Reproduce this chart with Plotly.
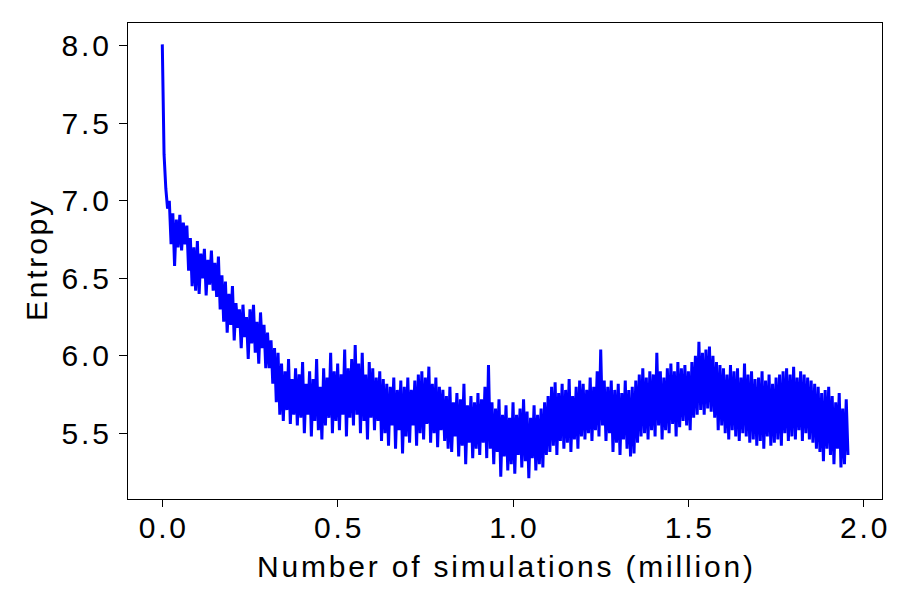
import plotly.graph_objects as go

# Entropy, one value every 0.005 million simulations
sim_step = 0.005
entropy = [
    # 0.0 - 0.1
    8.01, 7.30, 7.08, 6.95, 7.00, 6.72, 6.92, 6.58, 6.88, 6.70,
    6.91, 6.68, 6.86, 6.72, 6.84, 6.55, 6.76, 6.45, 6.70, 6.42,
    # 0.1 - 0.2
    6.74, 6.40, 6.66, 6.50, 6.69, 6.39, 6.62, 6.46, 6.68, 6.42,
    6.60, 6.38, 6.64, 6.30, 6.52, 6.22, 6.48, 6.15, 6.40, 6.20,
    # 0.2 - 0.3
    6.45, 6.10, 6.34, 6.18, 6.30, 6.05, 6.33, 6.12, 6.25, 5.98,
    6.30, 6.08, 6.33, 6.02, 6.22, 5.95, 6.28, 6.05, 6.20, 5.92,
    # 0.3 - 0.4
    6.15, 5.92, 6.10, 5.82, 6.05, 5.70, 6.02, 5.62, 5.95, 5.58,
    5.90, 5.65, 5.98, 5.56, 5.85, 5.62, 5.92, 5.55, 5.88, 5.60,
    # 0.4 - 0.5
    5.96, 5.50, 5.82, 5.62, 5.90, 5.48, 5.85, 5.58, 5.98, 5.52,
    5.80, 5.46, 5.92, 5.55, 5.86, 5.60, 6.02, 5.50, 5.90, 5.58,
    # 0.5 - 0.6
    5.95, 5.52, 5.88, 5.62, 6.04, 5.48, 5.92, 5.60, 5.98, 5.55,
    6.07, 5.62, 5.95, 5.50, 6.02, 5.58, 5.88, 5.46, 5.96, 5.60,
    # 0.6 - 0.7
    5.92, 5.52, 5.86, 5.58, 5.90, 5.45, 5.85, 5.50, 5.82, 5.42,
    5.80, 5.55, 5.86, 5.40, 5.78, 5.52, 5.84, 5.37, 5.80, 5.48,
    # 0.7 - 0.8
    5.86, 5.44, 5.78, 5.55, 5.84, 5.42, 5.88, 5.50, 5.90, 5.46,
    5.86, 5.56, 5.93, 5.44, 5.82, 5.50, 5.86, 5.41, 5.80, 5.52,
    # 0.8 - 0.9
    5.78, 5.45, 5.74, 5.40, 5.80, 5.38, 5.70, 5.48, 5.76, 5.35,
    5.72, 5.42, 5.82, 5.30, 5.68, 5.44, 5.74, 5.34, 5.70, 5.40,
    # 0.9 - 1.0
    5.76, 5.36, 5.72, 5.44, 5.80, 5.34, 5.94, 5.40, 5.70, 5.30,
    5.66, 5.38, 5.72, 5.22, 5.62, 5.35, 5.68, 5.26, 5.60, 5.30,
    # 1.0 - 1.1
    5.70, 5.24, 5.62, 5.36, 5.66, 5.28, 5.72, 5.32, 5.64, 5.21,
    5.60, 5.34, 5.68, 5.26, 5.62, 5.30, 5.66, 5.28, 5.70, 5.36,
    # 1.1 - 1.2
    5.74, 5.38, 5.80, 5.42, 5.83, 5.36, 5.76, 5.45, 5.82, 5.40,
    5.78, 5.44, 5.85, 5.38, 5.74, 5.46, 5.80, 5.40, 5.84, 5.48,
    # 1.2 - 1.3
    5.82, 5.46, 5.78, 5.50, 5.86, 5.45, 5.80, 5.52, 5.90, 5.48,
    6.04, 5.55, 5.84, 5.45, 5.80, 5.50, 5.84, 5.38, 5.78, 5.44,
    # 1.3 - 1.4
    5.82, 5.36, 5.76, 5.46, 5.84, 5.40, 5.78, 5.35, 5.80, 5.37,
    5.84, 5.44, 5.88, 5.48, 5.92, 5.50, 5.86, 5.46, 5.90, 5.52,
    # 1.4 - 1.5
    5.88, 5.48, 6.02, 5.55, 5.90, 5.46, 5.86, 5.52, 5.92, 5.50,
    5.95, 5.56, 5.90, 5.48, 5.96, 5.54, 5.92, 5.58, 5.94, 5.55,
    # 1.5 - 1.6
    5.90, 5.52, 5.96, 5.60, 6.00, 5.62, 6.09, 5.65, 6.02, 5.62,
    6.04, 5.66, 6.06, 5.64, 6.00, 5.60, 5.96, 5.52, 5.94, 5.55,
    # 1.6 - 1.7
    5.92, 5.50, 5.88, 5.46, 5.94, 5.52, 5.90, 5.48, 5.92, 5.45,
    5.86, 5.50, 5.95, 5.48, 5.88, 5.44, 5.90, 5.46, 5.85, 5.42,
    # 1.7 - 1.8
    5.86, 5.45, 5.90, 5.40, 5.84, 5.48, 5.88, 5.42, 5.82, 5.44,
    5.86, 5.46, 5.88, 5.42, 5.90, 5.50, 5.92, 5.45, 5.88, 5.48,
    # 1.8 - 1.9
    5.93, 5.46, 5.86, 5.52, 5.90, 5.45, 5.88, 5.50, 5.86, 5.46,
    5.84, 5.44, 5.82, 5.40, 5.80, 5.38, 5.76, 5.32, 5.78, 5.40,
    # 1.9 - 1.955
    5.80, 5.36, 5.74, 5.30, 5.70, 5.40, 5.76, 5.28, 5.66, 5.30,
    5.72, 5.36,
]
simulations = [i * sim_step for i in range(len(entropy))]

x_ticks = [0.0, 0.5, 1.0, 1.5, 2.0]
y_ticks = [5.5, 6.0, 6.5, 7.0, 7.5, 8.0]

# the reference text is rendered with wide letter gaps
SPACING = 2.8


def spaced(s):
    return f'<span style="letter-spacing:{SPACING}px">{s[:-1]}</span>{s[-1]}'


font = dict(family="Liberation Sans, Arial, sans-serif", size=30, color="black")

fig = go.Figure()
fig.add_trace(go.Scatter(
    x=simulations,
    y=entropy,
    mode="lines",
    line=dict(color="#0000ff", width=3),
    showlegend=False,
))

# page body adds an 8px offset, so the figure is drawn 8px smaller
fig.update_layout(
    width=905,
    height=601,
    margin=dict(l=120, r=31, t=15, b=110),
    paper_bgcolor="white",
    plot_bgcolor="white",
    font=font,
)
fig.update_xaxes(
    range=[-0.0978, 2.052],
    tickvals=x_ticks,
    ticktext=[spaced(f"{v:.1f}") for v in x_ticks],
    ticks="outside", ticklen=7, tickwidth=1.2, tickcolor="black",
    ticklabelstandoff=-5,
    showline=True, linecolor="black", linewidth=1.2, mirror=True,
    showgrid=False, zeroline=False, automargin=False,
    title=dict(text=spaced("Number of simulations (million)"), font=font, standoff=12),
)
fig.update_yaxes(
    range=[5.076, 8.148],
    tickvals=y_ticks,
    ticktext=[spaced(f"{v:.1f}") for v in y_ticks],
    ticks="outside", ticklen=8, tickwidth=1.2, tickcolor="black",
    ticklabelstandoff=4,
    showline=True, linecolor="black", linewidth=1.2, mirror=True,
    showgrid=False, zeroline=False, automargin=False,
    title=dict(text=spaced("Entropy"), font=font, standoff=5),
)

fig.write_html("out.html")
